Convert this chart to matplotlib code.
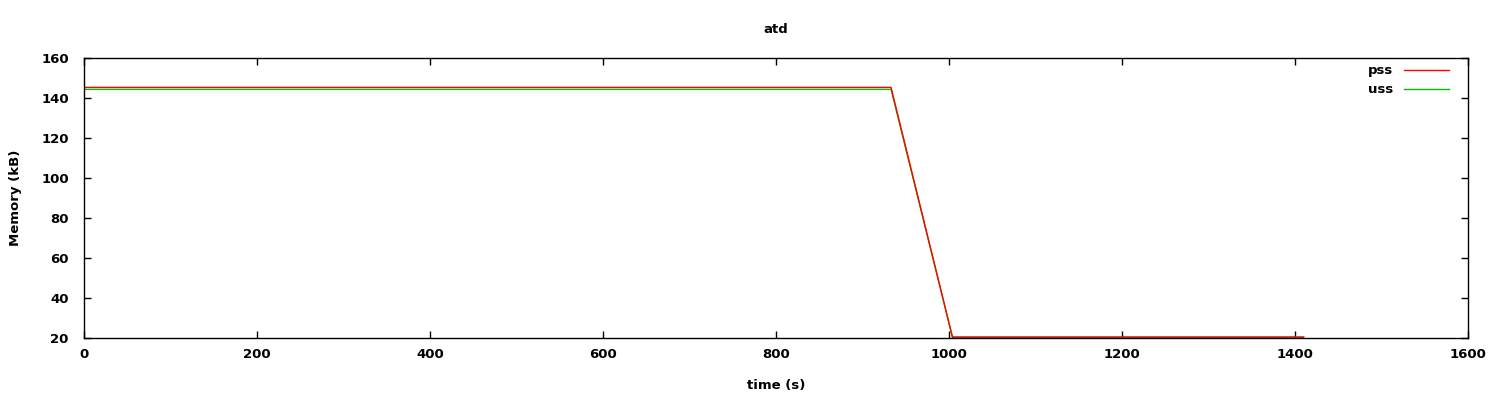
import matplotlib
matplotlib.use("Agg")
import matplotlib.pyplot as plt

time_s = [0, 933, 1004, 1410]
pss = [145.3, 145.3, 20.5, 20.5]
uss = [144.3, 144.3, 20.3, 20.3]

plt.rcParams['font.family'] = 'DejaVu Sans'
plt.rcParams['font.weight'] = 'bold'

fig = plt.figure(figsize=(15, 4), dpi=100)
ax = fig.add_axes([84 / 1500, 1 - 338 / 400, (1468 - 84) / 1500, (338 - 58) / 400])

ax.plot(time_s, uss, color='#00c000', lw=1, label='uss')
ax.plot(time_s, pss, color='#ff0000', lw=1, label='pss')

ax.set_xlim(0, 1600)
ax.set_ylim(20, 160)
ax.set_xticks(range(0, 1601, 200))
ax.set_yticks(range(20, 161, 20))
ax.tick_params(direction='in', top=True, right=True, length=5, width=1, labelsize=9.5)
ax.tick_params(axis='y', pad=11)
ax.tick_params(axis='x', pad=7)
for s in ax.spines.values():
    s.set_linewidth(1)

ax.set_title('atd', fontsize=9.5, fontweight='bold', pad=18)
ax.set_xlabel('time (s)', fontsize=9.5, fontweight='bold', labelpad=13)
ax.set_ylabel('Memory (kB)', fontsize=9.5, fontweight='bold', labelpad=14)

h, l = ax.get_legend_handles_labels()
ax.legend(h[::-1], l[::-1], loc='upper right', frameon=False, markerfirst=False,
          fontsize=9.5, handlelength=3.4, labelspacing=0.45, borderaxespad=0.3,
          bbox_to_anchor=(1 - 10 / 1384, 1 + 3 / 280))

fig.savefig('out.png', dpi=100)
